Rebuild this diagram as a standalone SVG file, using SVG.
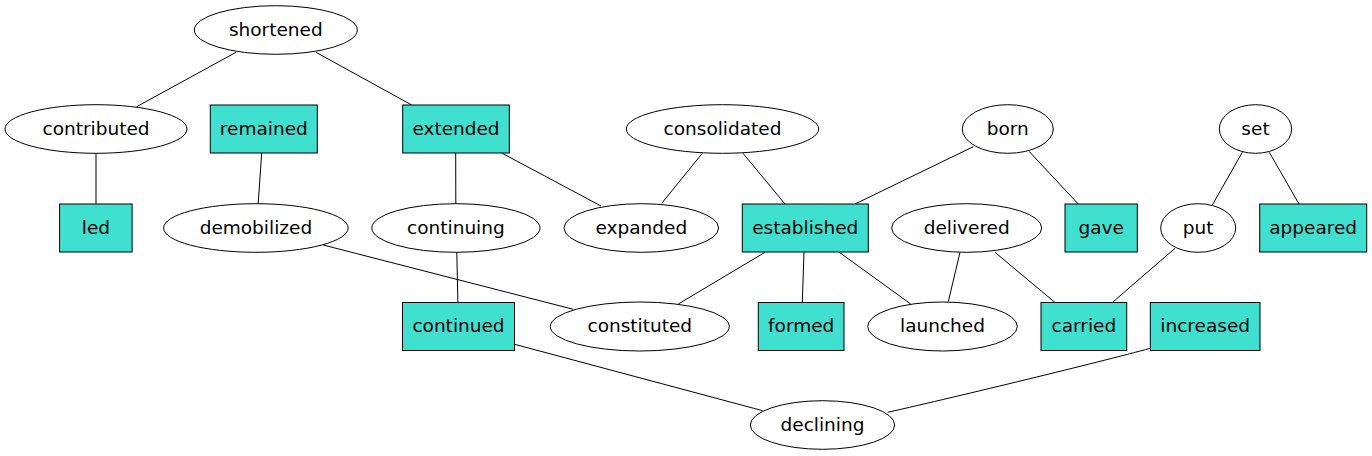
<svg xmlns="http://www.w3.org/2000/svg" width="1372" height="456" viewBox="0 0 1372 456">
<style>
.e{fill:#ffffff;stroke:#000000;stroke-width:1}
.b{fill:#40e0d0;stroke:#000000;stroke-width:1}
.c line,.c path{stroke:#000000;stroke-width:1;fill:none}
text{font-family:"DejaVu Sans",sans-serif;font-size:18.5px;text-anchor:middle;fill:#000000}
</style>
<rect width="1372" height="456" fill="#ffffff"/>
<g id="connectors" class="c">
<line x1="236" y1="52.3" x2="136.7" y2="106.7"/>
<line x1="316" y1="52.3" x2="411.7" y2="105"/>
<line x1="96" y1="153.3" x2="96" y2="204"/>
<line x1="261.7" y1="153" x2="258.2" y2="203.5"/>
<line x1="455.7" y1="153" x2="455.8" y2="203.7"/>
<line x1="501.7" y1="153" x2="601" y2="206"/>
<line x1="702.3" y1="153.3" x2="661.7" y2="203.3"/>
<line x1="743" y1="153.3" x2="785" y2="204"/>
<line x1="973.3" y1="146.7" x2="855" y2="204"/>
<line x1="1029" y1="151.3" x2="1078.3" y2="204"/>
<line x1="1242.3" y1="152.3" x2="1212.3" y2="205"/>
<line x1="1269.3" y1="152.3" x2="1299" y2="204"/>
<line x1="323.2" y1="245" x2="573.3" y2="309.3"/>
<line x1="456.8" y1="252.3" x2="457.9" y2="302.5"/>
<line x1="765" y1="252.3" x2="678.3" y2="304"/>
<line x1="804" y1="252.3" x2="802.3" y2="302.5"/>
<line x1="839.3" y1="252.3" x2="910.7" y2="304"/>
<line x1="960" y1="252.3" x2="948.3" y2="301.7"/>
<line x1="995" y1="252.3" x2="1055" y2="302.5"/>
<line x1="1175" y1="248.3" x2="1112.3" y2="302.5"/>
<line x1="514.6" y1="344.3" x2="762.7" y2="410.7"/>
<path d="M1150.3,348.3 C1100,362 960,396 887.7,412.3"/>
</g>
<g id="shortened"><ellipse class="e" cx="275.8" cy="30" rx="81.5" ry="24.3"/><text x="275.8" y="35.5">shortened</text></g>
<g id="contributed"><ellipse class="e" cx="96" cy="129" rx="91" ry="24.3"/><text x="96" y="134.5">contributed</text></g>
<g id="remained"><rect class="b" x="210.3" y="105" width="107" height="48"/><text x="263.8" y="134.5">remained</text></g>
<g id="extended"><rect class="b" x="402.7" y="105" width="106.6" height="48"/><text x="456" y="134.5">extended</text></g>
<g id="consolidated"><ellipse class="e" cx="722.5" cy="129" rx="96.2" ry="24.3"/><text x="722.5" y="134.5">consolidated</text></g>
<g id="born"><ellipse class="e" cx="1007.8" cy="129" rx="45.5" ry="24.3"/><text x="1007.8" y="134.5">born</text></g>
<g id="set"><ellipse class="e" cx="1255.5" cy="129" rx="36.2" ry="24.3"/><text x="1255.5" y="134.5">set</text></g>
<g id="led"><rect class="b" x="59.6" y="204" width="72.5" height="48"/><text x="95.9" y="233.5">led</text></g>
<g id="demobilized"><ellipse class="e" cx="255.9" cy="228" rx="92.3" ry="24.3"/><text x="255.9" y="233.5">demobilized</text></g>
<g id="continuing"><ellipse class="e" cx="455.9" cy="228" rx="84.1" ry="24.3"/><text x="455.9" y="233.5">continuing</text></g>
<g id="expanded"><ellipse class="e" cx="641.3" cy="228" rx="77.3" ry="24.3"/><text x="641.3" y="233.5">expanded</text></g>
<g id="established"><rect class="b" x="742.3" y="204" width="126" height="48"/><text x="805.3" y="233.5">established</text></g>
<g id="delivered"><ellipse class="e" cx="966.7" cy="228" rx="75" ry="24.3"/><text x="966.7" y="233.5">delivered</text></g>
<g id="gave"><rect class="b" x="1065" y="204" width="72.3" height="48"/><text x="1101.2" y="233.5">gave</text></g>
<g id="put"><ellipse class="e" cx="1198.2" cy="228" rx="37.5" ry="24.3"/><text x="1198.2" y="233.5">put</text></g>
<g id="appeared"><rect class="b" x="1259.7" y="204" width="107" height="48"/><text x="1313.2" y="233.5">appeared</text></g>
<g id="continued"><rect class="b" x="402.5" y="302.5" width="112" height="48"/><text x="458.5" y="332">continued</text></g>
<g id="constituted"><ellipse class="e" cx="639.8" cy="326.5" rx="89.5" ry="24.5"/><text x="639.8" y="332">constituted</text></g>
<g id="formed"><rect class="b" x="758.3" y="302.5" width="85.7" height="48"/><text x="801.2" y="332">formed</text></g>
<g id="launched"><ellipse class="e" cx="942.5" cy="326.5" rx="74.8" ry="24.5"/><text x="942.5" y="332">launched</text></g>
<g id="carried"><rect class="b" x="1041" y="302.5" width="85.7" height="48"/><text x="1083.9" y="332">carried</text></g>
<g id="increased"><rect class="b" x="1150.3" y="302.5" width="109.7" height="48"/><text x="1205.2" y="332">increased</text></g>
<g id="declining"><ellipse class="e" cx="822.5" cy="425" rx="72.2" ry="24.3"/><text x="822.5" y="430.5">declining</text></g>
</svg>
